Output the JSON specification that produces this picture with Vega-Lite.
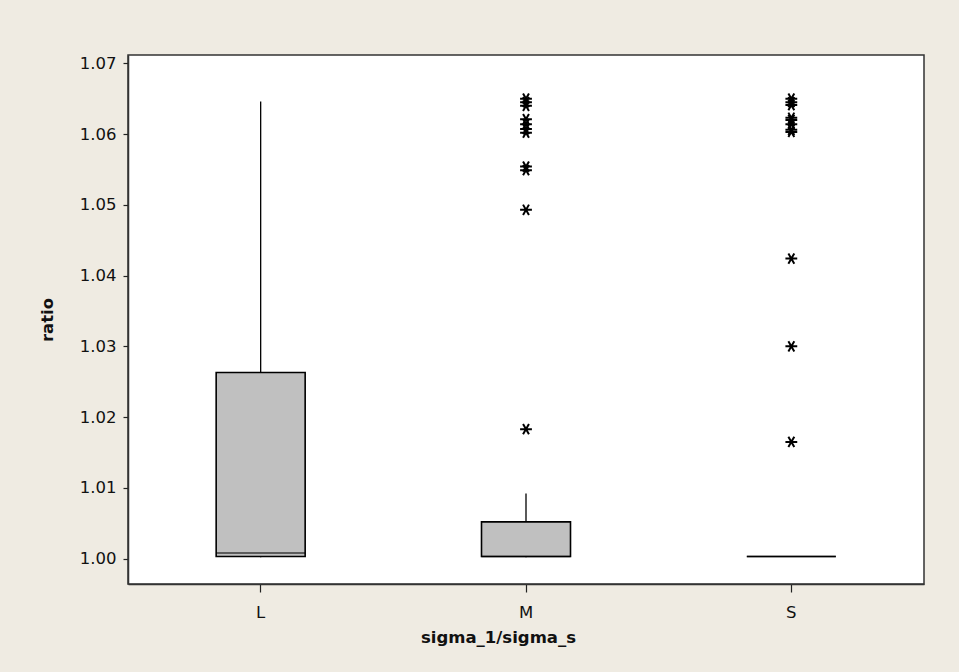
{
  "$schema": "https://vega.github.io/schema/vega-lite/v6.json",
  "autosize": "none",
  "width": 796,
  "height": 529,
  "padding": {"left": 128, "top": 55, "right": 35, "bottom": 88},
  "background": "#EFEBE2",
  "datasets": {
    "summary": [
      {"group": "L", "lower": 1.0002, "q1": 1.0003, "median": 1.0008, "q3": 1.0263, "upper": 1.0646},
      {"group": "M", "lower": 1.0002, "q1": 1.0003, "median": 1.0003, "q3": 1.0052, "upper": 1.0092},
      {"group": "S", "lower": 1.0003, "q1": 1.0003, "median": 1.0003, "q3": 1.0003, "upper": 1.0003}
    ],
    "outliers": [
      {"group": "M", "ratio": 1.0183},
      {"group": "M", "ratio": 1.0493},
      {"group": "M", "ratio": 1.0549},
      {"group": "M", "ratio": 1.0554},
      {"group": "M", "ratio": 1.0602},
      {"group": "M", "ratio": 1.0607},
      {"group": "M", "ratio": 1.0614},
      {"group": "M", "ratio": 1.0621},
      {"group": "M", "ratio": 1.0640},
      {"group": "M", "ratio": 1.0645},
      {"group": "M", "ratio": 1.0650},
      {"group": "S", "ratio": 1.0165},
      {"group": "S", "ratio": 1.0300},
      {"group": "S", "ratio": 1.0424},
      {"group": "S", "ratio": 1.0603},
      {"group": "S", "ratio": 1.0606},
      {"group": "S", "ratio": 1.0614},
      {"group": "S", "ratio": 1.0620},
      {"group": "S", "ratio": 1.0623},
      {"group": "S", "ratio": 1.0641},
      {"group": "S", "ratio": 1.0645},
      {"group": "S", "ratio": 1.0650}
    ]
  },
  "config": {
    "view": {"fill": "white", "stroke": "#333333", "strokeWidth": 1.5},
    "font": "DejaVu Sans",
    "axis": {
      "domainColor": "#333333",
      "domainWidth": 1.5,
      "tickColor": "#222222",
      "tickWidth": 1.2,
      "grid": false,
      "labelFont": "DejaVu Sans",
      "labelFontSize": 16.5,
      "labelColor": "#111111",
      "titleFont": "DejaVu Sans",
      "titleFontSize": 16.5,
      "titleFontWeight": "bold",
      "titleColor": "#111111"
    }
  },
  "encoding": {
    "x": {
      "field": "group",
      "type": "nominal",
      "scale": {"domain": ["L", "M", "S"], "paddingInner": 0, "paddingOuter": 0},
      "axis": {"title": "sigma_1/sigma_s", "labelAngle": 0, "tickSize": 8, "labelPadding": 12, "titlePadding": 9, "titleX": 370}
    }
  },
  "layer": [
    {
      "data": {"name": "summary"},
      "mark": {"type": "rule", "color": "black", "strokeWidth": 1.3},
      "encoding": {
        "y": {"field": "q3", "type": "quantitative"},
        "y2": {"field": "upper"}
      }
    },
    {
      "data": {"name": "summary"},
      "mark": {"type": "rule", "color": "black", "strokeWidth": 1.3},
      "encoding": {
        "y": {"field": "lower", "type": "quantitative"},
        "y2": {"field": "q1"}
      }
    },
    {
      "data": {"name": "summary"},
      "mark": {"type": "bar", "size": 89, "fill": "#C0C0C0", "stroke": "black", "strokeWidth": 1.6},
      "encoding": {
        "y": {
          "field": "q1",
          "type": "quantitative",
          "scale": {"domain": [0.99642, 1.07117], "nice": false, "zero": false},
          "axis": {"title": "ratio", "values": [1.0, 1.01, 1.02, 1.03, 1.04, 1.05, 1.06, 1.07], "format": ".2f", "tickSize": 5, "labelPadding": 7, "titlePadding": 24}
        },
        "y2": {"field": "q3"}
      }
    },
    {
      "data": {"name": "summary"},
      "mark": {"type": "tick", "size": 89, "thickness": 1.6, "color": "black"},
      "encoding": {
        "y": {"field": "median", "type": "quantitative"}
      }
    },
    {
      "data": {"name": "outliers"},
      "mark": {
        "type": "point",
        "shape": "M-1,0L1,0M-0.5,-0.87L0.5,0.87M-0.5,0.87L0.5,-0.87",
        "size": 140,
        "stroke": "black",
        "strokeWidth": 2,
        "filled": false,
        "opacity": 1
      },
      "encoding": {
        "y": {"field": "ratio", "type": "quantitative"}
      }
    }
  ]
}
